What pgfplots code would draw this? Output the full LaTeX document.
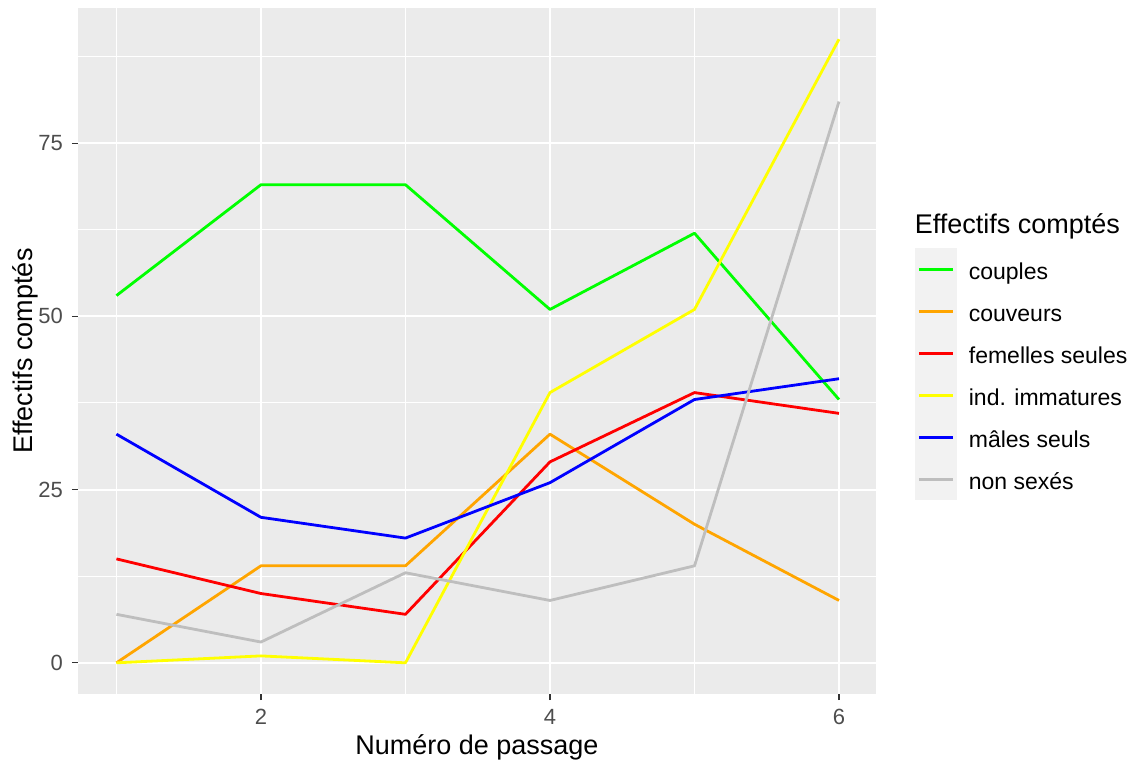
\documentclass[border=0pt]{standalone}
\usepackage{fontspec}
\setmainfont{Liberation Sans}
\usepackage{pgfplots}
\pgfplotsset{compat=1.18}
\definecolor{panelbg}{HTML}{EBEBEB}
\definecolor{keybg}{HTML}{F2F2F2}
\definecolor{ticklab}{HTML}{4D4D4D}
\definecolor{tickcol}{HTML}{333333}
\definecolor{cgreen}{HTML}{00FF00}
\definecolor{corange}{HTML}{FFA500}
\definecolor{cred}{HTML}{FF0000}
\definecolor{cyellow}{HTML}{FFFF00}
\definecolor{cblue}{HTML}{0000FF}
\definecolor{cgrey}{HTML}{BEBEBE}
\begin{document}
\begin{tikzpicture}
\useasboundingbox (-39pt,-34pt) rectangle (529pt,347pt);
\begin{axis}[
  at={(0,0)}, anchor=south west,
  scale only axis, width=399pt, height=343pt,
  xmin=0.734, xmax=6.256, ymin=-4.5, ymax=94.5,
  axis background/.style={fill=panelbg},
  axis line style={draw=none},
  xtick={2,4,6}, ytick={0,25,50,75},
  minor xtick={1,3,5}, minor ytick={12.5,37.5,62.5,87.5},
  grid=both,
  major grid style={white, line width=1pt},
  minor grid style={white, line width=0.5pt},
  tick align=outside, xtick pos=lower, ytick pos=left,
  major tick length=3pt, minor tick length=0pt,
  tick style={tickcol, line width=0.6pt},
  /pgf/number format/assume math mode=true,
  tick label style={font=\fontsize{11}{13}\selectfont, text=ticklab},
  xticklabel style={yshift=-1pt},
  yticklabel style={xshift=-1pt},
  every axis x label/.style={at={(axis description cs:0.5,-0.0889)}, anchor=base},
  every axis y label/.style={at={(axis description cs:-0.0564,0.5)}, rotate=90, anchor=base},
  label style={font=\fontsize{13.5}{16}\selectfont},
  xlabel={Numéro de passage},
  ylabel={Effectifs comptés},
  clip=false,
  legend cell align=left,
  legend style={at={(axis description cs:1.0482,0.6501)}, anchor=north west,
    draw=none, fill=none, inner sep=0pt, row sep=0pt, column sep=6pt,
    nodes={inner sep=0pt, text height=10.5pt, text depth=0pt},
    font=\fontsize{11.5}{13}\selectfont},
  legend image code/.code={%
    \path[draw=none, fill=keybg] (0pt,-10.5pt) rectangle (21pt,10.5pt);
    \draw[#1, line width=1.4pt] (2pt,0pt) -- (19pt,0pt);},
  ln/.style={line width=1.4pt, line join=round},
]
\addplot[ln, cgreen] coordinates {(1,53) (2,69) (3,69) (4,51) (5,62) (6,38)};
\addlegendentry{couples}
\addplot[ln, corange] coordinates {(1,0) (2,14) (3,14) (4,33) (5,20) (6,9)};
\addlegendentry{couveurs}
\addplot[ln, cred] coordinates {(1,15) (2,10) (3,7) (4,29) (5,39) (6,36)};
\addlegendentry{femelles seules}
\addplot[ln, cyellow] coordinates {(1,0) (2,1) (3,0) (4,39) (5,51) (6,90)};
\addlegendentry{ind. immatures}
\addplot[ln, cblue] coordinates {(1,33) (2,21) (3,18) (4,26) (5,38) (6,41)};
\addlegendentry{mâles seuls}
\addplot[ln, cgrey] coordinates {(1,7) (2,3) (3,13) (4,9) (5,14) (6,81)};
\addlegendentry{non sexés}
\node[anchor=base west, inner sep=0pt, font=\fontsize{13.5}{16}\selectfont] at (axis description cs:1.0482,0.672) {Effectifs comptés};
\end{axis}
\end{tikzpicture}
\end{document}
